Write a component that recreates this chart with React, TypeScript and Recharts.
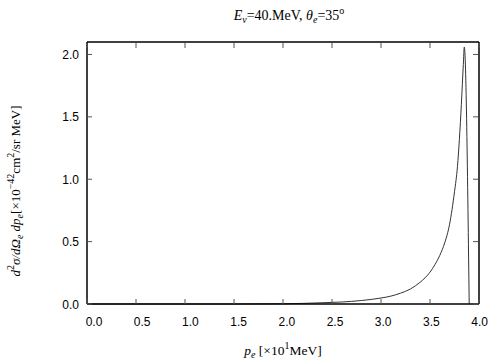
import React from "react"
import { LineChart, Line, XAxis, YAxis } from "recharts"

// electron momentum p_e [x10 MeV]
const momentum = [
  0, 0.5, 1.0, 1.5, 2.0, 2.2, 2.4, 2.6, 2.8, 3.0, 3.1, 3.2, 3.3, 3.4, 3.45, 3.5,
  3.55, 3.6, 3.65, 3.7, 3.75, 3.78, 3.8, 3.82, 3.84, 3.85, 3.9,
]
// d2sigma / dOmega dp [x10^-42 cm2/sr MeV]
const crossSection = [
  0, 0, 0, 0, 0.002, 0.005, 0.01, 0.016, 0.028, 0.048, 0.063, 0.087, 0.12, 0.175,
  0.21, 0.255, 0.315, 0.39, 0.49, 0.64, 0.9, 1.1, 1.32, 1.6, 1.92, 2.06, 0,
]
const xTicks = [0, 0.5, 1.0, 1.5, 2.0, 2.5, 3.0, 3.5, 4.0]
const yTicks = [0, 0.5, 1.0, 1.5, 2.0]

const data = momentum.map((p, i) => ({ p, sigma: crossSection[i] }))

const sans = "'Liberation Sans', Arial, sans-serif"
const serif = "'Liberation Serif', 'Times New Roman', serif"
const tickColor = "#555"

const BottomTick = ({ x, y, payload }: any) => (
  <g>
    <line x1={x} y1={y} x2={x} y2={y - 5} stroke={tickColor} />
    <text x={x + 7 - 1.6 * payload.value} y={y + 22} textAnchor="middle" fontSize={12} fontFamily={sans} fill="#000">
      {payload.value.toFixed(1)}
    </text>
  </g>
)

const TopTick = ({ x, y }: any) => <line x1={x} y1={y + 1} x2={x} y2={y + 6} stroke={tickColor} />

const LeftTick = ({ x, y, payload }: any) => (
  <g>
    <line x1={x} y1={y} x2={x + 5} y2={y} stroke={tickColor} />
    <text x={x - 8} y={y + 4.5} textAnchor="end" fontSize={12} fontFamily={sans} fill="#000">
      {payload.value.toFixed(1)}
    </text>
  </g>
)

const RightTick = ({ x, y }: any) => <line x1={x - 1} y1={y} x2={x - 6} y2={y} stroke={tickColor} />

const frame = { stroke: "#000", strokeWidth: 1.5 }

export default function App() {
  return (
    <div style={{ position: "absolute", left: 0, top: 0, width: 504, height: 360, background: "#fff" }}>
      <LineChart width={504} height={360} data={data} margin={{ top: 41, right: 24, bottom: 26, left: 47 }}>
        <XAxis
          dataKey="p"
          type="number"
          domain={[0, 4]}
          ticks={xTicks}
          tickSize={0}
          tickMargin={0}
          axisLine={frame}
          tick={<BottomTick />}
          height={30}
        />
        <XAxis
          xAxisId="top"
          dataKey="p"
          orientation="top"
          type="number"
          domain={[0, 4]}
          ticks={xTicks}
          tickSize={0}
          tickMargin={0}
          axisLine={frame}
          tick={<TopTick />}
          height={1}
        />
        <YAxis
          type="number"
          domain={[0, 2.1]}
          ticks={yTicks}
          tickSize={0}
          tickMargin={0}
          axisLine={frame}
          tick={<LeftTick />}
          width={40}
        />
        <YAxis
          yAxisId="right"
          orientation="right"
          type="number"
          domain={[0, 2.1]}
          ticks={yTicks}
          tickSize={0}
          tickMargin={0}
          axisLine={frame}
          tick={<RightTick />}
          width={1}
        />
        <Line
          xAxisId="top"
          yAxisId="right"
          dataKey="sigma"
          stroke="none"
          dot={false}
          activeDot={false}
          isAnimationActive={false}
        />
        <Line
          dataKey="sigma"
          type="monotone"
          stroke="#333"
          strokeWidth={1}
          dot={false}
          activeDot={false}
          isAnimationActive={false}
        />
        <text x={289} y={20} textAnchor="middle" fontSize={14} fontFamily={serif}>
          <tspan fontStyle="italic">E</tspan>
          <tspan fontSize={10} dy={3} fontStyle="italic">ν</tspan>
          <tspan dy={-3}>=40.MeV,  </tspan>
          <tspan fontStyle="italic">θ</tspan>
          <tspan fontSize={10} dy={3} fontStyle="italic">e</tspan>
          <tspan dy={-3}>=35</tspan>
          <tspan fontSize={10} dy={-6}>o</tspan>
        </text>
        <text x={283} y={355} textAnchor="middle" fontSize={13.5} fontFamily={serif}>
          <tspan fontStyle="italic">p</tspan>
          <tspan fontSize={10} dy={3} fontStyle="italic">e</tspan>
          <tspan dy={-3}> [×10</tspan>
          <tspan fontSize={10} dy={-6}>1</tspan>
          <tspan dy={6}>MeV]</tspan>
        </text>
        <text
          x={0}
          y={0}
          transform="translate(20, 191) rotate(-90)"
          textAnchor="middle"
          fontSize={13}
          fontFamily={serif}
        >
          <tspan fontStyle="italic">d</tspan>
          <tspan fontSize={10} dy={-6}>2</tspan>
          <tspan dy={6} fontStyle="italic">σ/dΩ</tspan>
          <tspan fontSize={10} dy={3} fontStyle="italic">e</tspan>
          <tspan dy={-3} fontStyle="italic"> dp</tspan>
          <tspan fontSize={10} dy={3} fontStyle="italic">e</tspan>
          <tspan dy={-3}>[×10</tspan>
          <tspan fontSize={10} dy={-6}>−42</tspan>
          <tspan dy={6}>cm</tspan>
          <tspan fontSize={10} dy={-6}>2</tspan>
          <tspan dy={6}>/sr MeV]</tspan>
        </text>
      </LineChart>
    </div>
  )
}
